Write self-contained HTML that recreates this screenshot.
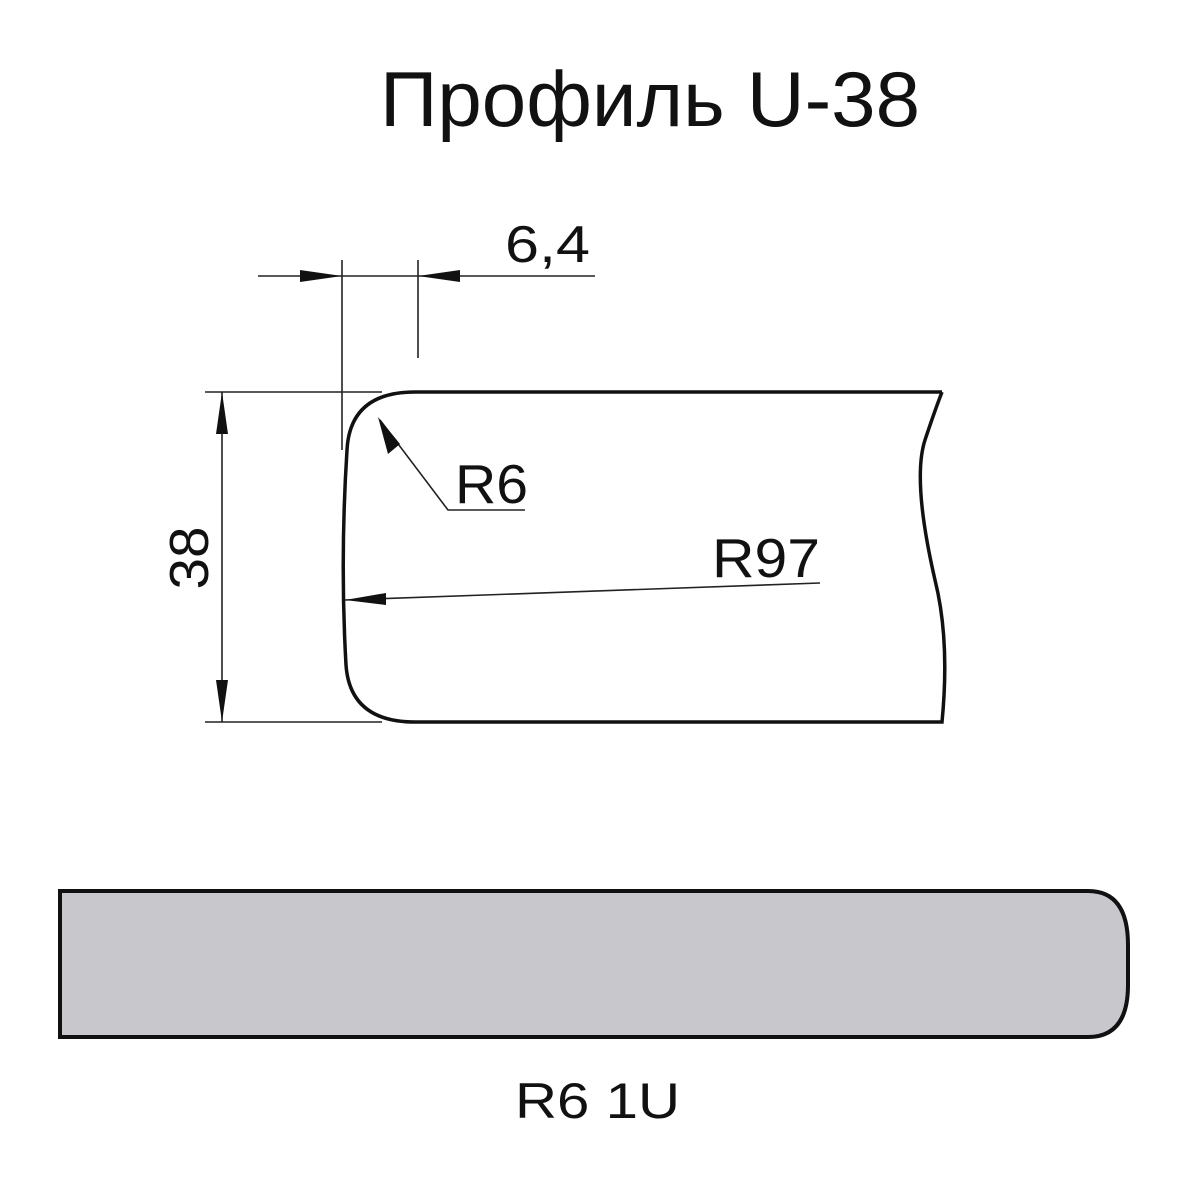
<!DOCTYPE html>
<html><head><meta charset="utf-8"><style>body{margin:0;background:#fff}svg{display:block}</style></head><body>
<svg width="1200" height="1200" viewBox="0 0 1200 1200" xmlns="http://www.w3.org/2000/svg" font-family="Liberation Sans, DejaVu Sans, sans-serif">
<text x="650" y="126" font-size="78" text-anchor="middle" fill="#111" textLength="540" lengthAdjust="spacingAndGlyphs">Профиль U-38</text>
<g stroke="#222" stroke-width="1.6" fill="none">
<line x1="258" y1="276" x2="595" y2="276"/>
<line x1="342" y1="260" x2="342" y2="450"/>
<line x1="418" y1="260" x2="418" y2="358"/>
<line x1="205" y1="392" x2="382" y2="392"/>
<line x1="205" y1="722" x2="382" y2="722"/>
<line x1="222" y1="392" x2="222" y2="722"/>
<polyline points="380,420 448,510 525,510"/>
<line x1="345" y1="600" x2="820" y2="583"/>
</g>
<g fill="#111">
<polygon points="342,276 300,270 300,282"/>
<polygon points="418,276 460,270 460,282"/>
<polygon points="222,392 216,434 228,434"/>
<polygon points="222,722 216,680 228,680"/>
<polygon points="378,417 388,454 400,444"/>
<polygon points="345,600 386,593 386,605"/>
</g>
<path d="M942,392 L415,392 Q350,392 347,450 Q340,560 346,665 Q350,722 415,722 L942,722 Q950,640 935,580 Q912,480 925,440 Q935,410 942,392" fill="none" stroke="#111" stroke-width="3.5"/>
<text x="505" y="262" font-size="52" fill="#111" textLength="85" lengthAdjust="spacingAndGlyphs">6,4</text>
<text x="455" y="503" font-size="55" fill="#111" textLength="73" lengthAdjust="spacingAndGlyphs">R6</text>
<text x="712" y="577" font-size="55" fill="#111" textLength="108" lengthAdjust="spacingAndGlyphs">R97</text>
<text transform="translate(208,558) rotate(-90)" font-size="55" text-anchor="middle" fill="#111" textLength="63" lengthAdjust="spacingAndGlyphs">38</text>
<path d="M60,891 L1088,891 Q1128,891 1128,945 L1128,985 Q1128,1037 1088,1037 L60,1037 Z" fill="#c7c7cc" stroke="#111" stroke-width="4"/>
<text x="515" y="1118" font-size="50" fill="#111" textLength="165" lengthAdjust="spacingAndGlyphs">R6 1U</text>
</svg>
</body></html>
